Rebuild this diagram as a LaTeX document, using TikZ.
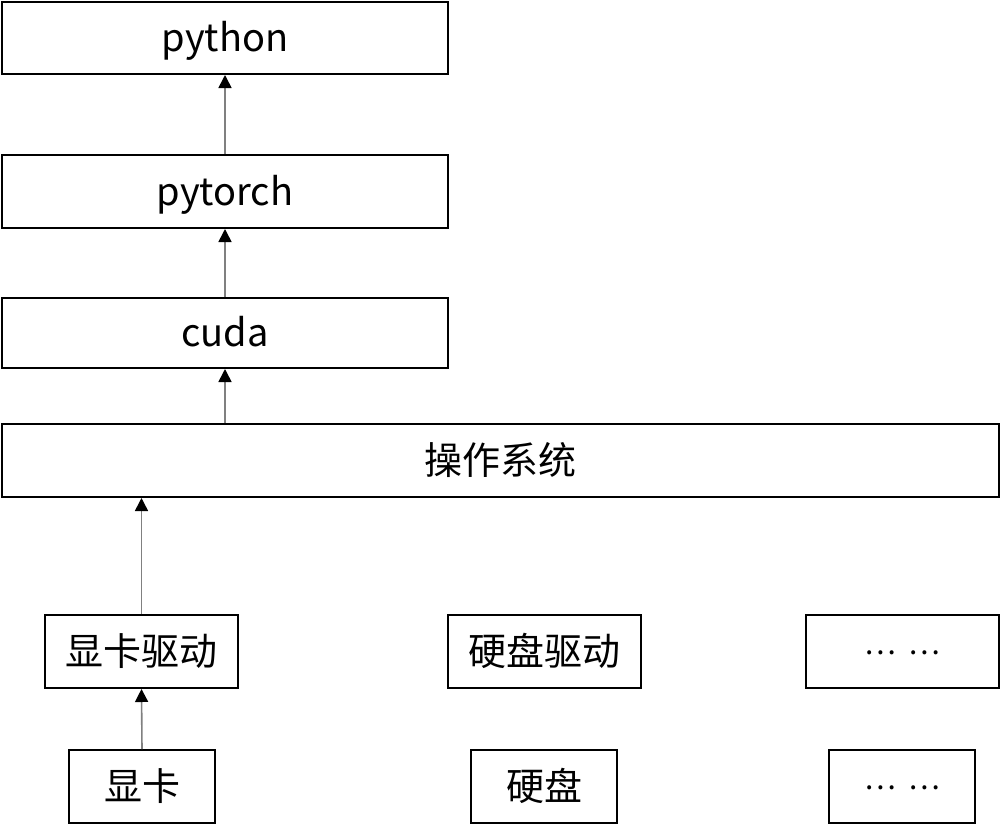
\documentclass[tikz,border=0pt]{standalone}
\usepackage{fontspec}
\setmainfont{Noto Sans CJK SC}
\usetikzlibrary{arrows.meta}

\tikzset{
	box/.style={draw=black, line width=2pt, rectangle, inner sep=0pt,
		text height=32pt, text depth=5pt,
		font=\fontsize{38}{44}\selectfont},
	dots/.style={text height=5pt, text depth=0pt, font=\fontsize{30}{36}\selectfont},
	up/.style={draw=gray, line width=1.6pt, -{Triangle[width=13pt, length=13pt, color=black]}},
}

\begin{document}
\begin{tikzpicture}[x=1pt, y=-1pt]
	\useasboundingbox (0,0) rectangle (1002,833);
	% software stack
	\node[box, minimum width=446pt, minimum height=72pt] (python) at (225,38) {python};
	\node[box, minimum width=446pt, minimum height=73pt] (pytorch) at (225,191.5) {pytorch};
	\node[box, minimum width=446pt, minimum height=70pt] (cuda) at (225,333) {cuda};
	\node[box, minimum width=997pt, minimum height=73pt] (os) at (500.5,460.5) {操作系统};
	% drivers
	\node[box, minimum width=193pt, minimum height=73pt] (gpudrv) at (141.5,651.5) {显卡驱动};
	\node[box, minimum width=193pt, minimum height=73pt] (diskdrv) at (544.5,651.5) {硬盘驱动};
	\node[box, dots, minimum width=193pt, minimum height=73pt] (moredrv) at (902.5,651.5) {…\hspace{12pt}…};
	% hardware
	\node[box, minimum width=146pt, minimum height=73pt] (gpu) at (142,786.5) {显卡};
	\node[box, minimum width=146pt, minimum height=73pt] (disk) at (544,786.5) {硬盘};
	\node[box, dots, minimum width=146pt, minimum height=73pt] (morehw) at (902,786.5) {…\hspace{12pt}…};
	% arrows
	\draw[up] (pytorch.north) -- (python.south);
	\draw[up] (cuda.north) -- (pytorch.south);
	\draw[up] (os.north -| cuda) -- (cuda.south);
	\draw[up] (gpudrv.north) -- (os.south -| gpudrv);
	\draw[up] (gpu.north) -- (gpudrv.south);
\end{tikzpicture}
\end{document}
